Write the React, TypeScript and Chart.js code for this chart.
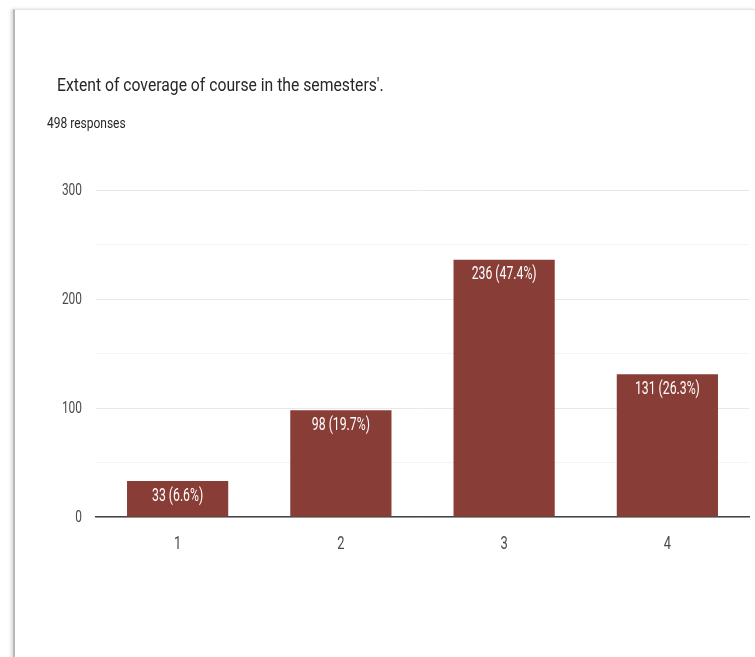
import React, { useEffect, useRef } from "react";
import { Chart, registerables } from "chart.js";

Chart.register(...registerables);

const categories = ["1", "2", "3", "4"];
const counts = [33, 98, 236, 131];
const percents = ["6.6%", "19.7%", "47.4%", "26.3%"];
const yTicksShown = [0, 100, 200, 300];

const TITLE = "Extent of coverage of course in the semesters'.";
const SUBTITLE = "498 responses";
const FONT = "Roboto, 'Noto Sans', sans-serif";
const BAR_COLOR = "#883e36";
const TICK_COLOR = "#4a4a4a";

function drawNarrow(
  ctx: CanvasRenderingContext2D,
  text: string,
  x: number,
  y: number,
  size: number,
  sx: number,
  align: CanvasTextAlign,
  color: string
) {
  ctx.save();
  ctx.translate(x, y);
  ctx.scale(sx, 1);
  ctx.font = `${size}px ${FONT}`;
  ctx.fillStyle = color;
  ctx.textAlign = align;
  ctx.textBaseline = "middle";
  ctx.fillText(text, 0, 0);
  ctx.restore();
}

const labelPlugin = {
  id: "narrowLabels",
  afterDraw(chart: any) {
    const ctx = chart.ctx;
    const yScale = chart.scales.y;
    const xScale = chart.scales.x;
    yTicksShown.forEach((v) => {
      drawNarrow(ctx, String(v), yScale.right - 14, yScale.getPixelForValue(v) + 1, 17, 0.7, "right", TICK_COLOR);
    });
    categories.forEach((c, i) => {
      drawNarrow(ctx, c, xScale.getPixelForValue(i), xScale.top + 27, 18, 0.72, "center", TICK_COLOR);
    });
    const meta = chart.getDatasetMeta(0);
    meta.data.forEach((bar: any, i: number) => {
      drawNarrow(ctx, `${counts[i]} (${percents[i]})`, bar.x, bar.y + 15, 18, 0.68, "center", "#ffffff");
    });
  },
};

export default function App() {
  const ref = useRef<HTMLCanvasElement | null>(null);

  useEffect(() => {
    if (!ref.current) return;
    const chart = new Chart(ref.current, {
      type: "bar",
      data: {
        labels: categories,
        datasets: [
          {
            data: counts,
            backgroundColor: BAR_COLOR,
            borderWidth: 0,
            barPercentage: 0.62,
            categoryPercentage: 1,
          },
        ],
      },
      options: {
        responsive: false,
        animation: false,
        maintainAspectRatio: false,
        layout: { padding: { top: 190, bottom: 100, left: 0, right: 6 } },
        plugins: {
          legend: { display: false },
          tooltip: { enabled: false },
          title: { display: false },
        },
        scales: {
          x: {
            grid: { display: false, drawTicks: false },
            border: { display: true, color: "#444444", width: 1.5 },
            ticks: { display: false },
            afterFit(scale: any) {
              scale.height = 40;
            },
          },
          y: {
            min: 0,
            max: 300,
            grid: {
              drawTicks: false,
              color: (c: any) =>
                c.tick && c.tick.value % 100 === 0 ? "#e8e8e8" : "#f3f3f3",
              lineWidth: 1,
            },
            border: { display: false },
            ticks: { display: false, stepSize: 50 },
            afterFit(scale: any) {
              scale.width = 96;
            },
          },
        },
      },
      plugins: [labelPlugin],
    });
    return () => chart.destroy();
  }, []);

  return (
    <div
      style={{
        position: "fixed",
        left: 0,
        top: 0,
        width: 755,
        height: 657,
        overflow: "hidden",
        background: "#ffffff",
        fontFamily: FONT,
      }}
    >
      <div
        style={{
          position: "absolute",
          left: 13,
          top: 9,
          width: 740,
          height: 700,
          borderTop: "1px solid #e4e4e4",
          borderLeft: "2px solid #b8b8b8",
          borderRight: "1px solid #eeeeee",
          boxShadow: "-2px 0 3px rgba(0,0,0,0.15)",
        }}
      />
      <canvas
        ref={ref}
        width={755}
        height={657}
        style={{ position: "absolute", left: 0, top: 0 }}
      />
      <div
        style={{
          position: "absolute",
          left: 57,
          top: 73,
          fontSize: 18.5,
          color: "#262626",
          whiteSpace: "nowrap",
          lineHeight: "24px",
          transform: "scaleX(0.85)",
          transformOrigin: "left top",
        }}
      >
        {TITLE}
      </div>
      <div
        style={{
          position: "absolute",
          left: 47,
          top: 113,
          fontSize: 15,
          color: "#262626",
          whiteSpace: "nowrap",
          lineHeight: "20px",
          transform: "scaleX(0.8)",
          transformOrigin: "left top",
        }}
      >
        {SUBTITLE}
      </div>
    </div>
  );
}
